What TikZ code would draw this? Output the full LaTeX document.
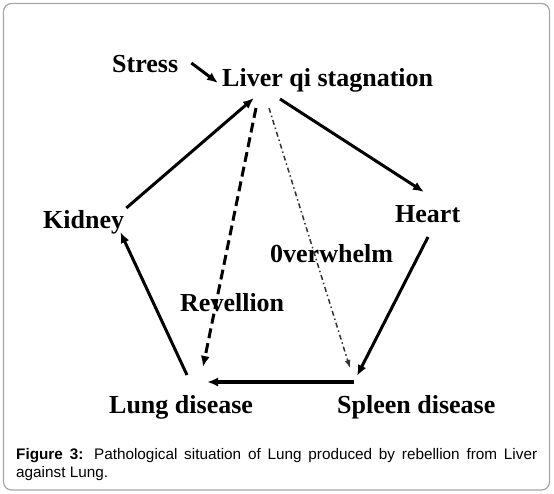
\documentclass[tikz,border=0pt]{standalone}
\usepackage{fontspec}
\setmainfont{Liberation Serif}
\newfontfamily\captionfont{Liberation Sans}
\usetikzlibrary{arrows.meta}

\begin{document}
\begin{tikzpicture}[x=1pt, y=-1pt, >={Latex[length=11pt,width=9pt]},
    organ/.style={inner sep=0pt, anchor=base west, font=\fontsize{26}{30}\selectfont\bfseries},
    link/.style={->, line width=3pt},
    rebel/.style={->, line width=3pt, dash pattern=on 10pt off 5pt},
    overw/.style={-{Latex[length=8pt,width=6pt]}, line width=1.5pt, black!80, dash pattern=on 5pt off 3pt on 1.5pt off 3pt}]
  \useasboundingbox (0,0) rectangle (554,494);
  % Frame
  \draw[black!35, line width=1.2pt, rounded corners=8pt] (3.5,3.5) rectangle (549.5,490);
  % Organs
  \node[organ] (stress) at (112,73) {Stress};
  \node[organ] (liver) at (222,87) {Liver qi stagnation};
  \node[organ] (kidney) at (43,229) {Kidney};
  \node[organ] (heart) at (395,223) {Heart};
  \node[organ] (lung) at (109,413) {Lung disease};
  \node[organ] (spleen) at (337,413) {Spleen disease};
  % Labels
  \node[organ] (overwhelm) at (270,263) {0verwhelm};
  \node[organ] (revellion) at (180,312) {Revellion};
  % Arrows
  \draw[link] ([xshift=13pt,yshift=10pt]stress.base east) -- ([xshift=-4pt,yshift=4pt]liver.base west);
  \draw[link] ([xshift=2pt,yshift=21pt]kidney.base east) -- ([xshift=32pt,yshift=-11pt]liver.base west);
  \draw[link] ([xshift=58pt,yshift=-12pt]liver.base west) -- ([xshift=29pt,yshift=31pt]heart.base west);
  \draw[link] ([xshift=33pt,yshift=-14pt]heart.base west) -- ([xshift=20pt,yshift=37pt]spleen.base west);
  \draw[link, line width=3.8pt] ([xshift=17pt,yshift=31pt]spleen.base west) -- ([xshift=98pt,yshift=31pt]lung.base west);
  \draw[link] ([xshift=78pt,yshift=38pt]lung.base west) -- ([xshift=-4pt,yshift=-3pt]kidney.base east);
  \draw[rebel] ([xshift=34pt,yshift=-21pt]liver.base west) -- ([xshift=94pt,yshift=46pt]lung.base west);
  \draw[overw] ([xshift=47pt,yshift=-21pt]liver.base west) -- ([xshift=13pt,yshift=45pt]spleen.base west);
  % Caption
  \node[inner sep=0pt, anchor=north west, text width=521pt, align=justify,
    font=\captionfont\fontsize{15.3}{18}\selectfont] (caption) at (16,448)
    {\textbf{Figure 3:} Pathological situation of Lung produced by rebellion from Liver\linebreak against Lung.};
\end{tikzpicture}
\end{document}
